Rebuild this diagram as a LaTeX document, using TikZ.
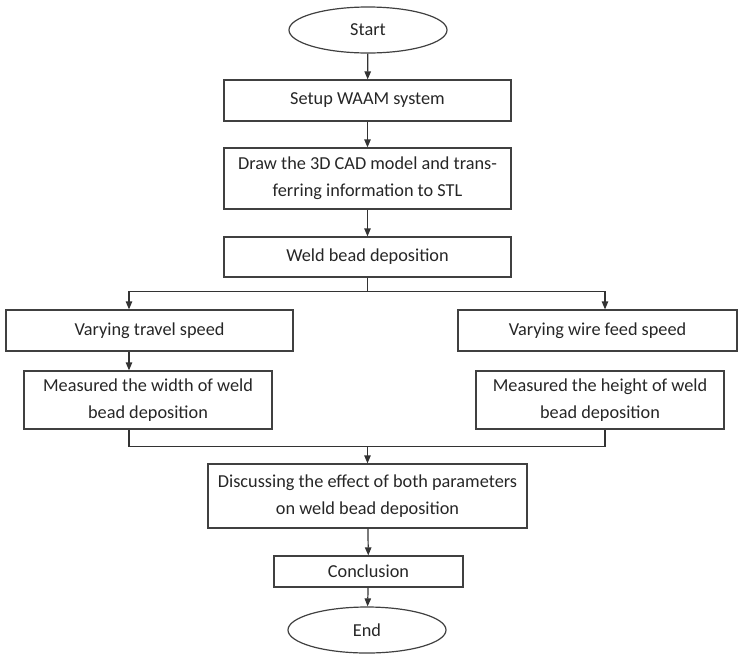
\documentclass[tikz,border=0pt]{standalone}
\usepackage{fontspec}
\setmainfont{Carlito}
\usepackage{tikz}
\usetikzlibrary{arrows.meta}
\usetikzlibrary{calc}
\usetikzlibrary{shapes.geometric, positioning}
\tikzstyle{block} = [draw=black!75, line width=0.9pt,
	align=center, inner sep=2pt,
	text=black!85,
	font=\fontsize{13.7}{20.25}\selectfont]
\tikzstyle{term} = [block, ellipse, inner sep=0pt,
	minimum width=118.5pt,
	minimum height=34.5pt]
\tikzstyle{arrow} = [-{Triangle[length=6pt, width=4.8pt]}, draw=black!80, line width=0.9pt]
\tikzstyle{line} = [draw=black!80, line width=0.9pt]

\begin{document}
\begin{tikzpicture}[x=0.75pt, y=-0.75pt]
	\useasboundingbox (0,0) rectangle (738,654);
	
	\node (start) [term] at (368,30) {Start};
	\node (setup) [block, minimum width=215.25pt, minimum height=30.75pt] at (367.5,100.5) {Setup WAAM system};
	\node (cad) [block, minimum width=215.25pt, minimum height=45.75pt] at (367.5,178.5) {Draw the 3D CAD model and trans-\\ferring information to STL};
	\node (weld) [block, minimum width=215.25pt, minimum height=30pt] at (367.5,257) {Weld bead deposition};
	
	\node (vTravel) [block, minimum width=215.25pt, minimum height=30.75pt] at (149.5,330.5) {Varying travel speed};
	\node (vWire) [block, minimum width=209.25pt, minimum height=30.75pt] at (597.5,330.5) {Varying wire feed speed};
	\node (mWidth) [block, minimum width=186pt, minimum height=43.5pt] at (148,400) {Measured the width of weld\\bead deposition};
	\node (mHeight) [block, minimum width=186pt, minimum height=43.5pt] at (600,400) {Measured the height of weld\\bead deposition};
	
	\node (disc) [block, minimum width=239.25pt, minimum height=48pt] at (367.5,496) {Discussing the effect of both parameters\\on weld bead deposition};
	\node (concl) [block, minimum width=141.75pt, minimum height=23.25pt] at (368.5,571.5) {Conclusion};
	\node (fin) [term] at (367,630) {End};
	
	\draw [arrow] (start) -- (setup);
	\draw [arrow] (setup) -- (cad);
	\draw [arrow] (cad) -- (weld);
	
	\coordinate (split) at ($(weld.south)+(0,14)$);
	\coordinate (lCol) at (129,0);
	\coordinate (rCol) at (605,0);
	\draw [line] (weld.south) -- (split);
	\draw [arrow] (split) -| (vTravel.north -| lCol);
	\draw [arrow] (split) -| (vWire.north -| rCol);
	\draw [arrow] (vTravel.south -| lCol) -- (mWidth.north -| lCol);
	
	\coordinate (join) at ($(disc.north)+(0,-17)$);
	\draw [line] (mWidth.south -| lCol) |- (join) -| (mHeight.south -| rCol);
	\draw [arrow] (join) -- (disc);
	\draw [arrow] (disc) -- (concl);
	\draw [arrow] (concl) -- (fin);
\end{tikzpicture}
\end{document}
